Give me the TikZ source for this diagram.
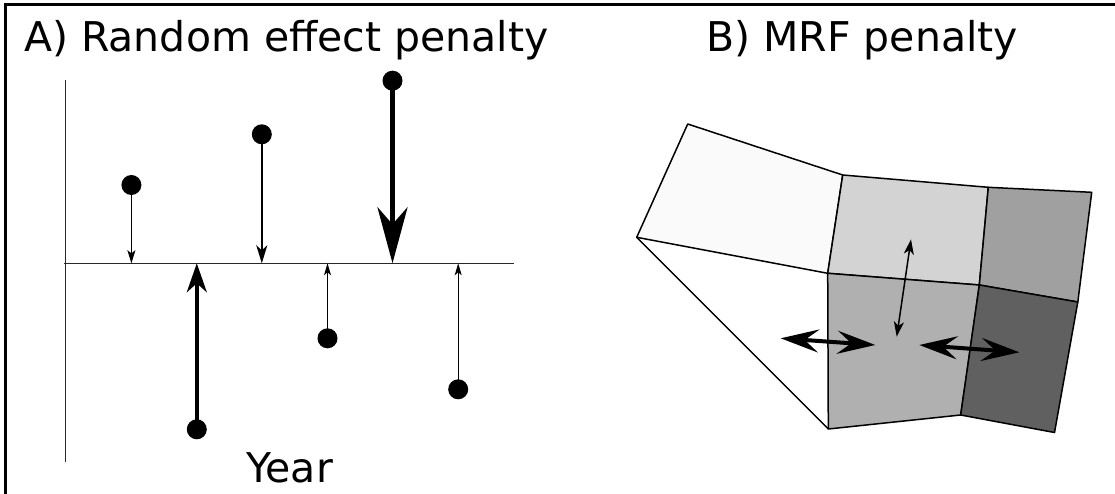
\documentclass[tikz,border=0pt]{standalone}
\usepackage{fontspec}
\setmainfont{DejaVu Sans}
\usetikzlibrary{arrows.meta}
\definecolor{cwhite}{RGB}{250,250,250}
\definecolor{clight}{RGB}{211,211,211}
\definecolor{cupright}{RGB}{160,160,160}
\definecolor{cmid}{RGB}{176,176,176}
\definecolor{cdark}{RGB}{96,96,96}
\definecolor{caxis}{RGB}{40,40,40}
\tikzset{
  dot/.style={circle,fill=black,inner sep=0pt,minimum size=20pt},
  title/.style={inner sep=0pt,font=\fontsize{41}{49}\selectfont},
  axisline/.style={draw=caxis,line width=1.6pt},
  cell/.style={draw=black,line width=1.5pt,line join=round},
  headXS/.style={-{Stealth[length=12pt,width=7pt,inset=3pt]},line width=1pt},
  headS/.style={-{Stealth[length=13pt,width=8pt,inset=3pt]},line width=1.5pt},
  headM/.style={-{Stealth[length=18pt,width=11pt,inset=5pt]},line width=1.8pt},
  headL/.style={-{Stealth[length=29pt,width=20pt,inset=9pt]},line width=3.5pt},
  headXL/.style={-{Stealth[length=56pt,width=30pt,inset=17pt]},line width=5.5pt},
  dblthin/.style={{Stealth[length=15pt,width=10pt,inset=4pt]}-{Stealth[length=15pt,width=10pt,inset=4pt]},line width=1.5pt},
  dblthick/.style={{Stealth[length=38pt,width=23pt,inset=14pt]}-{Stealth[length=38pt,width=23pt,inset=14pt]},line width=4pt},
}
\begin{document}
\begin{tikzpicture}[x=1pt,y=-1pt]
\useasboundingbox (0,0) rectangle (1115,494);
% frame (left and top edges)
\draw[line width=2.6pt] (5.7,500) -- (5.7,4.7) -- (1120,4.7);

% ---------- Panel A ----------
\node[title,anchor=base west] (tA) at (24,52) {A) Random effect penalty};
\coordinate (ytop) at (65.4,80);
\coordinate (ybot) at (65.4,462);
\coordinate (xl) at (64,263.3);
\coordinate (xr) at (514,263.3);
\draw[axisline] (ytop) -- (ybot);
\draw[axisline] (xl) -- (xr);
\node[title,anchor=base] (year) at (289.5,482) {Year};

\node[dot] (d1) at (131.4,185) {};
\node[dot] (d2) at (261.8,134.3) {};
\node[dot] (d3) at (392.5,80.7) {};
\node[dot] (d4) at (196.8,429.3) {};
\node[dot] (d5) at (327.5,338.3) {};
\node[dot] (d6) at (458.2,389.3) {};
\coordinate (a1) at (131.4,263.3);
\coordinate (a2) at (261.8,263.3);
\coordinate (a3) at (392.5,263.3);
\coordinate (a4) at (196.8,263.3);
\coordinate (a5) at (327.5,263.3);
\coordinate (a6) at (458.2,263.3);
\draw[headS] (d1.center) -- (a1);
\draw[headM] (d2.center) -- (a2);
\draw[headXL] (d3.center) -- (a3);
\draw[headL] (d4.center) -- (a4);
\draw[headXS] (d5.center) -- (a5);
\draw[headXS] (d6.center) -- (a6);

% ---------- Panel B ----------
\node[title,anchor=base west] (tB) at (706,52) {B) MRF penalty};
\coordinate (p1) at (687.7,124);
\coordinate (p2) at (636.7,237.3);
\coordinate (p3) at (842.7,175);
\coordinate (p4) at (827.7,273.3);
\coordinate (p5) at (988.3,187.3);
\coordinate (p6) at (979.3,285);
\coordinate (p7) at (1091.7,192.3);
\coordinate (p8) at (1077.8,302);
\coordinate (p9) at (960.7,415);
\coordinate (p10) at (828.3,429);
\coordinate (p11) at (1054.5,432.5);
\filldraw[cell,fill=cwhite] (p1) -- (p3) -- (p4) -- (p2) -- cycle;
\filldraw[cell,fill=clight] (p3) -- (p5) -- (p6) -- (p4) -- cycle;
\filldraw[cell,fill=cupright] (p5) -- (p7) -- (p8) -- (p6) -- cycle;
\filldraw[cell,fill=cmid] (p4) -- (p6) -- (p9) -- (p10) -- cycle;
\filldraw[cell,fill=cdark] (p6) -- (p8) -- (p11) -- (p9) -- cycle;
\draw[cell] (p2) -- (p10);

\coordinate (v1) at (911,239.3);
\coordinate (v2) at (896.7,336.7);
\coordinate (h1) at (780.7,338.3);
\coordinate (h2) at (875.3,345);
\coordinate (h3) at (919.3,345);
\coordinate (h4) at (1019.3,352.3);
\draw[dblthin] (v1) -- (v2);
\draw[dblthick] (h1) -- (h2);
\draw[dblthick] (h3) -- (h4);
\end{tikzpicture}
\end{document}
